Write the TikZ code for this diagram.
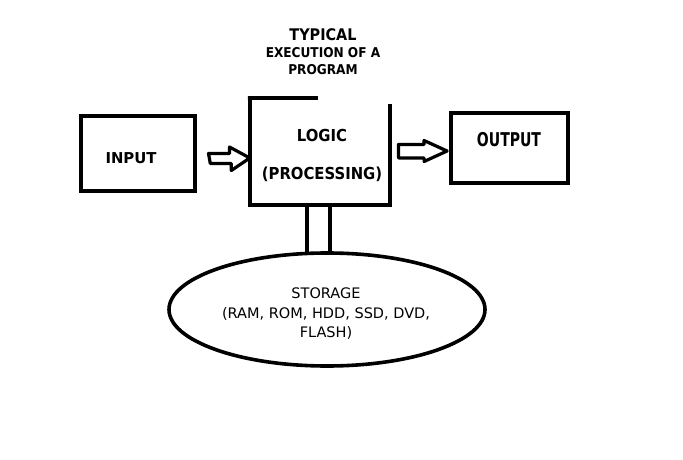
\documentclass[tikz,border=0pt]{standalone}
\usepackage{fontspec}
\setmainfont{DejaVu Sans}
\newfontfamily\condb{DejaVu Sans Condensed}[BoldFont={DejaVu Sans Condensed Bold}]
\usetikzlibrary{shapes.geometric}
\begin{document}
\begin{tikzpicture}[x=1pt,y=-1pt,
  box/.style={draw,line width=3.8pt,inner sep=0pt},
  hidden/.style={inner sep=0pt},
  blbl/.style={font=\condb\bfseries\fontsize{#1}{#1}\selectfont,inner sep=0pt},
  rlbl/.style={font=\fontsize{14.5}{19.5}\selectfont,align=center,inner sep=0pt},
  heavy/.style={line width=3.8pt},
  hollow/.style={draw,line width=3.2pt,line join=round}]
\useasboundingbox[fill=white] (0,0) rectangle (683,460);
% title
\node[blbl=16] (t1) at (323,35) {TYPICAL};
\node[blbl=13.5] (t2) at (323,53) {EXECUTION OF A};
\node[blbl=13.5] (t3) at (323,70) {PROGRAM};
% input
\node[box,minimum width=114pt,minimum height=75pt] (input) at (138,153.5) {};
\node[blbl=15,xscale=1.1] (inputt) at (131,158) {INPUT};
% logic
\node[hidden,minimum width=140pt,minimum height=107pt] (logic) at (320,151.5) {};
\draw[heavy] ([xshift=68pt]logic.north west) -- ([xshift=-1.9pt]logic.north west) -- (logic.north west) -- (logic.south west) -- (logic.south east) -- ([yshift=-6pt]logic.north east);
\node[blbl=16.5] (logict) at (322,135) {LOGIC};
\node[blbl=16.5] (proct) at (322,174) {(PROCESSING)};
% output
\node[box,minimum width=117pt,minimum height=70pt] (output) at (509.5,148) {};
\node[blbl=19,xscale=0.82] (outputt) at (509,140) {OUTPUT};
% storage
\node[draw,ellipse,line width=3.6pt,minimum width=316pt,minimum height=113pt,inner sep=0pt] (storage) at (327,309.5) {};
\node[rlbl] (storaget) at (326,314) {STORAGE\\(RAM, ROM, HDD, SSD, DVD,\\FLASH)};
% bus lines
\draw[heavy] ([xshift=-13pt]logic.south) -- ([xshift=-13pt,yshift=-1pt]logic.south |- storage.north);
\draw[heavy] ([xshift=10pt]logic.south) -- ([xshift=10pt,yshift=-1pt]logic.south |- storage.north);
% input arrow
\coordinate (ia) at (208.5,158);
\draw[hollow] (ia) ++(0,-4.5) -- ++(21,0) -- ++(0,-6.5) -- (logic.west |- ia) -- ++(-18.5,12.5) -- ++(0,-7) -- ++(-21,0) -- cycle;
% output arrow
\coordinate (oa) at (398.5,151);
\draw[hollow] (oa) ++(0,-6.5) -- ++(25.5,0) -- ++(0,-4) -- ([xshift=-2pt]output.west |- oa) -- ++(-23,10.5) -- ++(0,-3.5) -- ++(-25.5,0) -- cycle;
\end{tikzpicture}
\end{document}
